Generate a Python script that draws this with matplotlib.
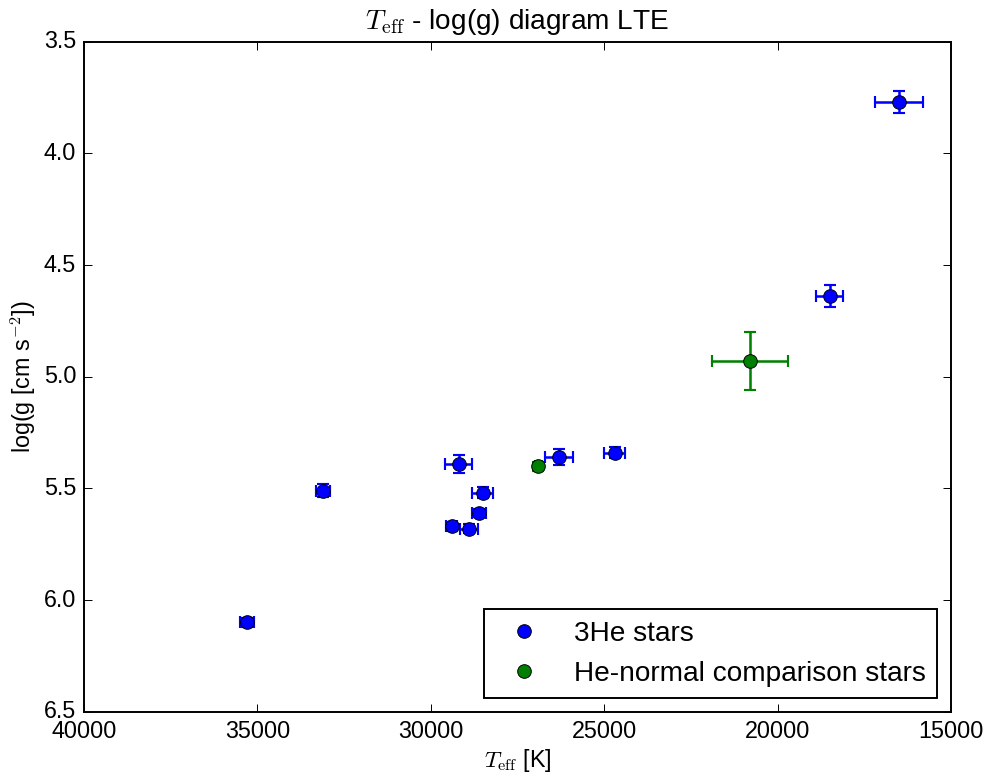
import matplotlib
matplotlib.use("Agg")
import matplotlib.pyplot as plt

plt.style.use("classic")
plt.rcParams["font.family"] = ["Liberation Sans", "DejaVu Sans"]
plt.rcParams["mathtext.fontset"] = "cm"

# 3He stars
teff_3he = [35300, 33100, 29200, 28500, 28600, 29400, 28900, 26300, 24700, 18500, 16500]
logg_3he = [6.10, 5.51, 5.39, 5.52, 5.61, 5.67, 5.68, 5.36, 5.34, 4.64, 3.77]
teff_err_3he = [200, 200, 400, 300, 200, 150, 250, 400, 300, 400, 700]
logg_err_3he = [0.02, 0.03, 0.04, 0.025, 0.02, 0.02, 0.02, 0.035, 0.025, 0.05, 0.05]

# He-normal comparison stars
teff_norm = [26900, 20800]
logg_norm = [5.40, 4.93]
teff_err_norm = [100, 1100]
logg_err_norm = [0.02, 0.13]

dpi = 140
fig = plt.figure(figsize=(990 / dpi, 775 / dpi), dpi=dpi, facecolor="white")
ax = fig.add_axes([0.0848, 0.0815, 0.8758, 0.8648])

ax.errorbar(teff_3he, logg_3he, xerr=teff_err_3he, yerr=logg_err_3he,
            fmt="none", ecolor="#0000ff", capsize=3, elinewidth=1.3, capthick=1.1)
ax.plot(teff_3he, logg_3he, "o", color="#0000ff", mec="k", ms=7,
        label="3He stars")
ax.errorbar(teff_norm, logg_norm, xerr=teff_err_norm, yerr=logg_err_norm,
            fmt="none", ecolor="#008000", capsize=3, elinewidth=1.3, capthick=1.1)
ax.plot(teff_norm, logg_norm, "o", color="#008000", mec="k", ms=7,
        label="He-normal comparison stars")

ax.set_xlim(40000, 15000)
ax.set_ylim(6.5, 3.5)
ax.set_xlabel(r"$T_{\rm eff}$ [K]", fontsize=12, labelpad=2)
ax.set_ylabel(r"log(g [cm s$^{-2}$])", fontsize=12, labelpad=3)
ax.set_title(r"$T_{\rm eff}$ - log(g) diagram LTE", fontsize=14.4, y=1.005)
ax.legend(loc="lower right", numpoints=1, fontsize=14.4)

fig.savefig("out.png", dpi=dpi, facecolor="white")
